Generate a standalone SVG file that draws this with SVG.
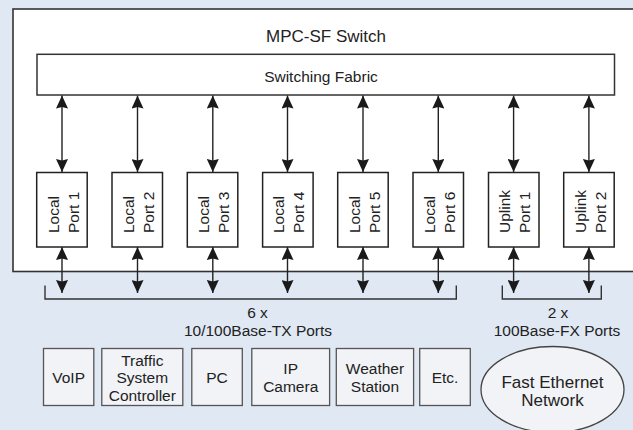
<svg xmlns="http://www.w3.org/2000/svg" width="633" height="430" viewBox="0 0 633 430">
<style>
text{font-family:"Liberation Sans",Arial,sans-serif;fill:#222;}
.t17{font-size:17px;text-anchor:middle;}
.t15{font-size:15.5px;text-anchor:middle;}
.pt{font-size:15.5px;text-anchor:start;}
.port{fill:#fff;stroke:#222;stroke-width:1.5;}
.dev{fill:#f1f3f6;stroke:#555;stroke-width:1.3;}
.conn{stroke:#222;stroke-width:1.4;fill:none;}
.br{stroke:#333;stroke-width:1.4;fill:none;}
</style>
<defs>
<marker id="ah" markerUnits="userSpaceOnUse" markerWidth="14" markerHeight="12" refX="13" refY="6" orient="auto-start-reverse">
<path d="M0,0 L13,6 L0,12 L1.5,6 z" fill="#1a1a1a"/>
</marker>
</defs>
<rect width="633" height="430" fill="#dfe8f3"/>
<g id="switch">
<rect x="13" y="9" width="640" height="262.5" fill="#fff" stroke="#333" stroke-width="1.6"/>
<text class="t17" x="326" y="41.5">MPC-SF Switch</text>
</g>
<g id="fabric">
<rect x="37" y="54.3" width="577.5" height="40.7" fill="#fff" stroke="#333" stroke-width="1.5"/>
<text class="t15" x="321" y="81.5">Switching Fabric</text>
</g>
<g id="connectors">
<line class="conn" x1="62" y1="95.5" x2="62" y2="172" marker-start="url(#ah)" marker-end="url(#ah)"/>
<line class="conn" x1="137.5" y1="95.5" x2="137.5" y2="172" marker-start="url(#ah)" marker-end="url(#ah)"/>
<line class="conn" x1="212.8" y1="95.5" x2="212.8" y2="172" marker-start="url(#ah)" marker-end="url(#ah)"/>
<line class="conn" x1="287.5" y1="95.5" x2="287.5" y2="172" marker-start="url(#ah)" marker-end="url(#ah)"/>
<line class="conn" x1="363" y1="95.5" x2="363" y2="172" marker-start="url(#ah)" marker-end="url(#ah)"/>
<line class="conn" x1="438.3" y1="95.5" x2="438.3" y2="172" marker-start="url(#ah)" marker-end="url(#ah)"/>
<line class="conn" x1="513.6" y1="95.5" x2="513.6" y2="172" marker-start="url(#ah)" marker-end="url(#ah)"/>
<line class="conn" x1="588.9" y1="95.5" x2="588.9" y2="172" marker-start="url(#ah)" marker-end="url(#ah)"/>
<line class="conn" x1="62" y1="247" x2="62" y2="293" marker-start="url(#ah)" marker-end="url(#ah)"/>
<line class="conn" x1="137.5" y1="247" x2="137.5" y2="293" marker-start="url(#ah)" marker-end="url(#ah)"/>
<line class="conn" x1="212.8" y1="247" x2="212.8" y2="293" marker-start="url(#ah)" marker-end="url(#ah)"/>
<line class="conn" x1="287.5" y1="247" x2="287.5" y2="293" marker-start="url(#ah)" marker-end="url(#ah)"/>
<line class="conn" x1="363" y1="247" x2="363" y2="293" marker-start="url(#ah)" marker-end="url(#ah)"/>
<line class="conn" x1="438.3" y1="247" x2="438.3" y2="293" marker-start="url(#ah)" marker-end="url(#ah)"/>
<line class="conn" x1="513.6" y1="247" x2="513.6" y2="293" marker-start="url(#ah)" marker-end="url(#ah)"/>
<line class="conn" x1="588.9" y1="247" x2="588.9" y2="293" marker-start="url(#ah)" marker-end="url(#ah)"/>
<path class="br" d="M45,285.5 V299 H456.3 V285.5"/>
<path class="br" d="M502.3,285.5 V299 H601.3 V285.5"/>
</g>
<g id="port1"><rect class="port" x="36.7" y="172.5" width="50.5" height="74.5"/>
<g transform="translate(62,233) rotate(-90)"><text class="pt" x="0" y="-3.5">Local</text><text class="pt" x="0" y="16.5">Port 1</text></g></g>
<g id="port2"><rect class="port" x="112" y="172.5" width="50.5" height="74.5"/>
<g transform="translate(137.3,233) rotate(-90)"><text class="pt" x="0" y="-3.5">Local</text><text class="pt" x="0" y="16.5">Port 2</text></g></g>
<g id="port3"><rect class="port" x="187.3" y="172.5" width="50.5" height="74.5"/>
<g transform="translate(212.6,233) rotate(-90)"><text class="pt" x="0" y="-3.5">Local</text><text class="pt" x="0" y="16.5">Port 3</text></g></g>
<g id="port4"><rect class="port" x="262.6" y="172.5" width="50.5" height="74.5"/>
<g transform="translate(287.9,233) rotate(-90)"><text class="pt" x="0" y="-3.5">Local</text><text class="pt" x="0" y="16.5">Port 4</text></g></g>
<g id="port5"><rect class="port" x="337.7" y="172.5" width="50.5" height="74.5"/>
<g transform="translate(363,233) rotate(-90)"><text class="pt" x="0" y="-3.5">Local</text><text class="pt" x="0" y="16.5">Port 5</text></g></g>
<g id="port6"><rect class="port" x="413" y="172.5" width="50.5" height="74.5"/>
<g transform="translate(438.3,233) rotate(-90)"><text class="pt" x="0" y="-3.5">Local</text><text class="pt" x="0" y="16.5">Port 6</text></g></g>
<g id="uplink1"><rect class="port" x="488.5" y="172.5" width="50.5" height="74.5"/>
<g transform="translate(513.8,233) rotate(-90)"><text class="pt" x="0" y="-3.5">Uplink</text><text class="pt" x="0" y="16.5">Port 1</text></g></g>
<g id="uplink2"><rect class="port" x="563.7" y="172.5" width="50.5" height="74.5"/>
<g transform="translate(589,233) rotate(-90)"><text class="pt" x="0" y="-3.5">Uplink</text><text class="pt" x="0" y="16.5">Port 2</text></g></g>
<g id="label-tx">
<text class="t15" x="257.5" y="318.3">6 x</text>
<text class="t15" x="258" y="336">10/100Base-TX Ports</text>
</g>
<g id="label-fx">
<text class="t15" x="558" y="318.3">2 x</text>
<text class="t15" x="557" y="336">100Base-FX Ports</text>
</g>
<g id="voip"><rect class="dev" x="43.5" y="348.5" width="50.3" height="57"/>
<text class="t15" x="68.6" y="383.3">VoIP</text></g>
<g id="traffic"><rect class="dev" x="101.8" y="348.5" width="81" height="57"/>
<text class="t15" x="142.3" y="366">Traffic</text><text class="t15" x="142.3" y="383.3">System</text><text class="t15" x="142.3" y="400.6">Controller</text></g>
<g id="pc"><rect class="dev" x="191.8" y="348.5" width="50.5" height="57"/>
<text class="t15" x="217" y="383.3">PC</text></g>
<g id="ipcamera"><rect class="dev" x="251.8" y="348.5" width="77.8" height="57"/>
<text class="t15" x="290.7" y="374.2">IP</text><text class="t15" x="290.7" y="391.8">Camera</text></g>
<g id="weather"><rect class="dev" x="336.3" y="348.5" width="77.3" height="57"/>
<text class="t15" x="375" y="374.2">Weather</text><text class="t15" x="375" y="391.8">Station</text></g>
<g id="etc"><rect class="dev" x="419.7" y="348.5" width="50.6" height="57"/>
<text class="t15" x="445" y="383">Etc.</text></g>
<g id="network"><ellipse cx="552.5" cy="389.5" rx="71.5" ry="43" fill="#f1f3f6" stroke="#444" stroke-width="1.3"/>
<text class="t17" x="552.5" y="388.3">Fast Ethernet</text><text class="t17" x="552.5" y="405.8">Network</text></g>
</svg>
